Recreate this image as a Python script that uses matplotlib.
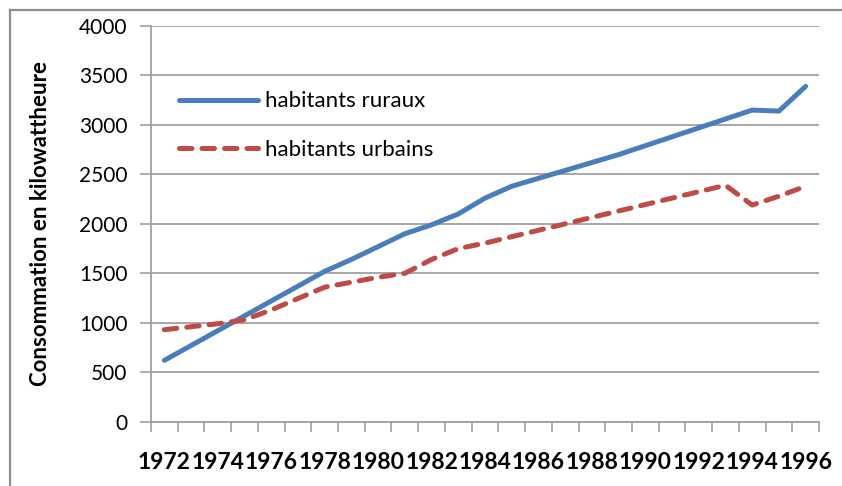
import matplotlib
matplotlib.use("Agg")
from matplotlib import pyplot as plt
from matplotlib.lines import Line2D

years = list(range(1972, 1997))
rural = [620, 770, 920, 1070, 1220, 1370, 1520, 1640, 1770, 1900, 1990, 2100,
         2260, 2380, 2460, 2540, 2620, 2700, 2790, 2880, 2970, 3060, 3150, 3140, 3390]
urban = [930, 960, 990, 1030, 1130, 1245, 1360, 1410, 1460, 1500, 1640, 1750,
         1805, 1870, 1935, 2000, 2065, 2130, 2195, 2260, 2325, 2390, 2190, 2280, 2380]
labels = ["habitants ruraux", "habitants urbains"]
ylabel = "Consommation en kilowattheure"

plt.rcParams['font.family'] = ['Lato', 'DejaVu Sans']

fig = plt.figure(figsize=(8.42, 4.86), dpi=100)
ax = fig.add_axes([151 / 842, 1 - 421.7 / 486, 668 / 842, 395.7 / 486])

x = list(range(len(years)))
ax.plot(x, rural, color='#4A7EBB', lw=3.6, solid_capstyle='round', label=labels[0])
ax.plot(x, urban, color='#BE4B48', lw=3.6, linestyle=(0, (2.5, 2.0)),
        dash_capstyle='round', label=labels[1])

ax.set_xlim(-0.5, len(years) - 0.5)
ax.set_ylim(0, 4000)
ax.set_yticks(range(0, 4001, 500))
ax.tick_params(axis='y', labelsize=15, length=8, width=1.2, color='#A0A0A0', pad=9)
ax.grid(axis='y', color='#A0A0A0', lw=1.3)
ax.set_axisbelow(True)

# category axis: ticks between categories, labels every other year
ax.set_xticks([i - 0.5 for i in range(len(years) + 1)])
ax.set_xticklabels([])
ax.set_xticks(x[::2], minor=True)
ax.set_xticklabels([str(y) for y in years[::2]], minor=True, fontsize=16.5, fontweight='bold')
ax.tick_params(axis='x', which='major', length=7, width=1.2, color='#A0A0A0', direction='out')
ax.tick_params(axis='x', which='minor', length=0, pad=22)

for s in ['top', 'right']:
    ax.spines[s].set_visible(False)
for s in ['left', 'bottom']:
    ax.spines[s].set_color('#A0A0A0')
    ax.spines[s].set_linewidth(1.3)

ax.set_ylabel(ylabel, fontsize=16, fontweight='bold', labelpad=20)

ax.legend(loc='upper left', bbox_to_anchor=(0.042, 0.835), frameon=False,
          fontsize=16, handlelength=3.55, handletextpad=0.3, labelspacing=1.3,
          borderpad=0, borderaxespad=0)

# outer chart frame (left and top edges visible)
fig.add_artist(Line2D([10 / 842, 10 / 842], [0, 1 - 10 / 486], color='#8C8C8C', lw=1.6))
fig.add_artist(Line2D([10 / 842, 1], [1 - 10 / 486, 1 - 10 / 486], color='#8C8C8C', lw=1.6))

plt.savefig('out.png', dpi=100)
